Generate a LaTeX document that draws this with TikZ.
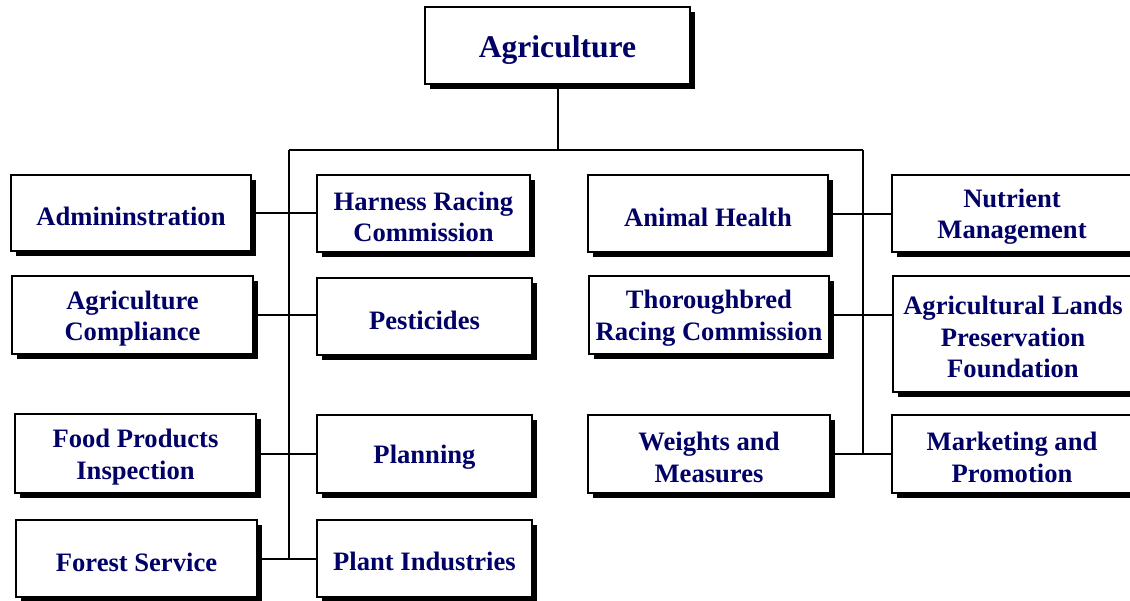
\documentclass[tikz,border=0pt]{standalone}
\usepackage{fontspec}
\setmainfont{Liberation Serif}
\usetikzlibrary{shadows}
\definecolor{navy}{HTML}{000066}
\newcommand{\fl}{\rule{0pt}{0.95em}}
\tikzset{
  unit/.style={draw=black, line width=1.8pt, fill=white, inner sep=0pt, outer sep=0pt,
    align=center, text=navy, font=\fontsize{26.6}{31.5}\selectfont\bfseries,
    drop shadow={shadow xshift=5pt, shadow yshift=-5pt, opacity=1, fill=black}},
  wire/.style={draw=black, line width=2pt}
}
\begin{document}
\begin{tikzpicture}[x=1pt, y=-1pt]
\useasboundingbox (0,0) rectangle (1130,600);
\clip (0,0) rectangle (1130,600);
\node[unit, minimum width=265pt, minimum height=77pt, font=\fontsize{31.6}{36}\selectfont\bfseries] (agri) at (557.5,45.5) {\fl Agriculture};

\node[unit, minimum width=240pt, minimum height=76pt] (admin) at (131,213) {\fl Admininstration};
\node[unit, minimum width=213pt, minimum height=77pt] (harness) at (423.5,213.5) {\fl Harness Racing\\Commission};
\node[unit, minimum width=240pt, minimum height=77pt] (animal) at (708,213.5) {\fl Animal Health};
\node[unit, minimum width=240pt, minimum height=77pt] (nutrient) at (1012,213.5) {\fl Nutrient\\Management};

\node[unit, minimum width=241pt, minimum height=78pt] (compl) at (132.5,315) {\fl Agriculture\\Compliance};
\node[unit, minimum width=215pt, minimum height=77pt] (pest) at (424.5,316.5) {\fl Pesticides};
\node[unit, minimum width=240pt, minimum height=78pt] (thor) at (709,315) {\fl Thoroughbred\\Racing Commission};
\node[unit, minimum width=240pt, minimum height=116pt] (lands) at (1013,334) {\fl Agricultural Lands\\Preservation\\Foundation};

\node[unit, minimum width=241pt, minimum height=79pt] (food) at (135.5,453.5) {\fl Food Products\\Inspection};
\node[unit, minimum width=215pt, minimum height=78pt] (plan) at (424.5,454) {\fl Planning};
\node[unit, minimum width=242pt, minimum height=78pt] (weights) at (709,454) {\fl Weights and\\Measures};
\node[unit, minimum width=240pt, minimum height=78pt] (market) at (1012,454) {\fl Marketing and\\Promotion};

\node[unit, minimum width=241pt, minimum height=77pt] (forest) at (136.5,558.5) {\fl Forest Service};
\node[unit, minimum width=215pt, minimum height=77pt] (plant) at (424.5,558.5) {\fl Plant Industries};

\coordinate (top) at (557.5,150);
\coordinate (lbus) at (289,150);
\coordinate (rbus) at (863,150);
\coordinate (lend) at (289,558.5);
\coordinate (rend) at (863,454);

\draw[wire] (agri.south) -- (top);
\draw[wire] (lbus) -- (rbus);
\draw[wire] (lend) -- (lbus);
\draw[wire] (rend) -- (rbus);

\draw[wire] (admin.east) -- (admin.east -| harness.west);
\draw[wire] (compl.east) -- (compl.east -| pest.west);
\draw[wire] (food.east) -- (food.east -| plan.west);
\draw[wire] (forest.east) -- (forest.east -| plant.west);
\draw[wire] (animal.east) -- (animal.east -| nutrient.west);
\draw[wire] (thor.east) -- (thor.east -| lands.west);
\draw[wire] (weights.east) -- (weights.east -| market.west);
\end{tikzpicture}
\end{document}
